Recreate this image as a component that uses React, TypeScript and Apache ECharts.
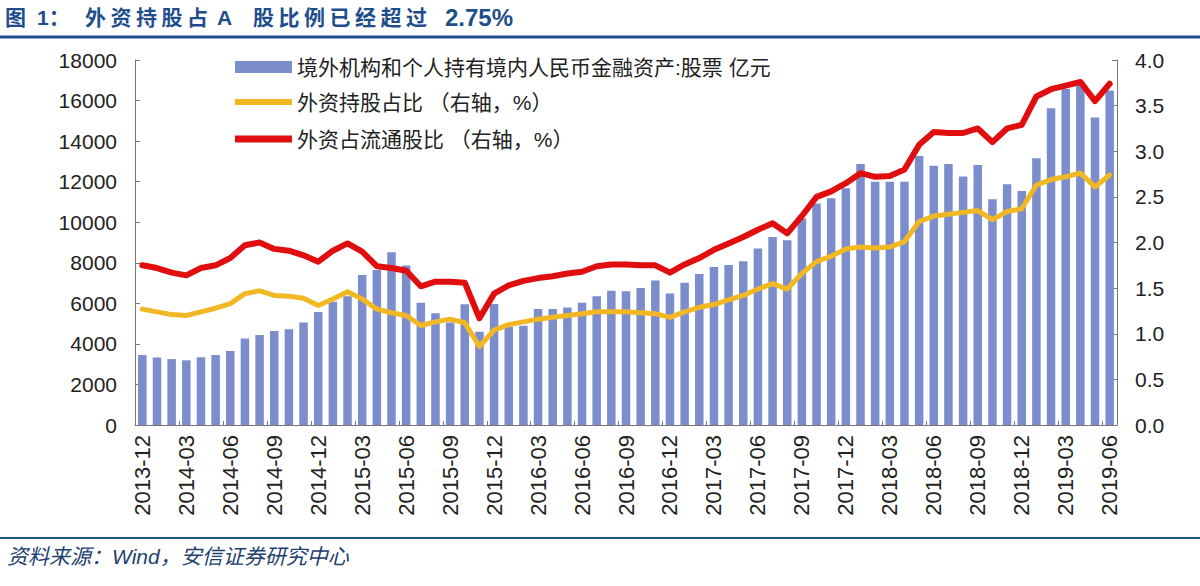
import React, { useEffect, useRef } from "react";
import * as echarts from "echarts";

const categories: string[] = [
  "2013-12",
  "2014-01", "2014-02", "2014-03", "2014-04", "2014-05", "2014-06", "2014-07", "2014-08", "2014-09", "2014-10", "2014-11", "2014-12",
  "2015-01", "2015-02", "2015-03", "2015-04", "2015-05", "2015-06", "2015-07", "2015-08", "2015-09", "2015-10", "2015-11", "2015-12",
  "2016-01", "2016-02", "2016-03", "2016-04", "2016-05", "2016-06", "2016-07", "2016-08", "2016-09", "2016-10", "2016-11", "2016-12",
  "2017-01", "2017-02", "2017-03", "2017-04", "2017-05", "2017-06", "2017-07", "2017-08", "2017-09", "2017-10", "2017-11", "2017-12",
  "2018-01", "2018-02", "2018-03", "2018-04", "2018-05", "2018-06", "2018-07", "2018-08", "2018-09", "2018-10", "2018-11", "2018-12",
  "2019-01", "2019-02", "2019-03", "2019-04", "2019-05", "2019-06",
];

// 境外机构和个人持有境内人民币金融资产:股票 (亿元)
const holdings: number[] = [
  3450,
  3330, 3250, 3190, 3340, 3450, 3650, 4270, 4440, 4640, 4720, 5050, 5570,
  6080, 6350, 7400, 7650, 8520, 7870, 6030, 5510, 5050, 5950, 4600, 5970,
  4850, 4900, 5720, 5720, 5800, 6030, 6350, 6620, 6590, 6760, 7120, 6490,
  7020, 7450, 7790, 7890, 8080, 8710, 9270, 9110, 10180, 10920, 11180, 11670,
  12870, 12000, 12000, 12000, 13270, 12790, 12870, 12250, 12820, 11130, 11870, 11540,
  13150, 15620, 16570, 16770, 15160, 16490,
];

// 外资持股占比 (右轴, %)
const shareTotal: number[] = [
  1.27,
  1.24, 1.21, 1.2, 1.24, 1.28, 1.33, 1.44, 1.47, 1.42, 1.41, 1.39, 1.31,
  1.38, 1.46, 1.38, 1.27, 1.23, 1.2, 1.09, 1.13, 1.16, 1.12, 0.86, 1.04,
  1.1, 1.13, 1.16, 1.18, 1.2, 1.22, 1.24, 1.24, 1.24, 1.23, 1.22, 1.18,
  1.24, 1.29, 1.32, 1.37, 1.42, 1.49, 1.55, 1.49, 1.66, 1.79, 1.85, 1.93,
  1.95, 1.94, 1.95, 2.01, 2.23, 2.29, 2.31, 2.33, 2.35, 2.25, 2.34, 2.37,
  2.63, 2.69, 2.72, 2.76, 2.61, 2.74,
];

// 外资占流通股比 (右轴, %)
const shareFloat: number[] = [
  1.75,
  1.72, 1.67, 1.64, 1.72, 1.75, 1.83, 1.97, 2.0, 1.93, 1.91, 1.86, 1.79,
  1.91, 1.99, 1.9, 1.74, 1.72, 1.69, 1.52, 1.57, 1.57, 1.56, 1.17, 1.44,
  1.53, 1.58, 1.61, 1.63, 1.66, 1.68, 1.74, 1.76, 1.76, 1.75, 1.75, 1.67,
  1.76, 1.83, 1.92, 1.99, 2.06, 2.14, 2.21, 2.1, 2.29, 2.5, 2.56, 2.65,
  2.76, 2.72, 2.73, 2.8, 3.07, 3.21, 3.2, 3.2, 3.25, 3.1, 3.25, 3.29,
  3.6, 3.68, 3.72, 3.76, 3.55, 3.74,
];

const seriesNames: string[] = [
  "境外机构和个人持有境内人民币金融资产:股票 亿元",
  "外资持股占比 （右轴，%）",
  "外资占流通股比 （右轴，%）",
];

// title pieces: text, start x, per-character step (0 = draw as one run)
const titleParts: [string, number, number][] = [
  ["图", 5, 0],
  ["1：", 37, 0],
  ["外资持股占", 85, 25.5],
  ["A", 217, 0],
  ["股比例已经超过", 253, 25.5],
  ["2.75%", 445, 0],
];
const sourceText = "资料来源：Wind，安信证券研究中心";

const FONT = "'Liberation Sans', Arial, 'Noto Sans CJK SC', sans-serif";
const BAR_COLOR = "#7C8DCB";
const YELLOW = "#F2B824";
const RED = "#E00E0E";
const BLUE = "#1F4E8C";

export default function App() {
  const ref = useRef<HTMLDivElement>(null);

  useEffect(() => {
    if (!ref.current) return;
    const chart = echarts.init(ref.current, undefined, { renderer: "svg" });
    const legendText = { fontSize: 21, color: "#222", fontFamily: FONT, lineHeight: 24 };

    const titleEls: any[] = [];
    titleParts.forEach(([txt, x0, step]) => {
      const pieces = step > 0 ? Array.from(txt) : [txt];
      pieces.forEach((p, k) => {
        titleEls.push({
          type: "text",
          x: x0 + k * step,
          y: 17,
          style: {
            text: p,
            fontSize: p === "2.75%" ? 24 : 21,
            fontWeight: "bold",
            fill: BLUE,
            fontFamily: FONT,
            verticalAlign: "middle",
          },
        });
      });
    });

    chart.setOption({
      animation: false,
      backgroundColor: "#ffffff",
      textStyle: { fontFamily: FONT },
      graphic: [
        ...titleEls,
        {
          type: "line",
          shape: { x1: 0, y1: 37, x2: 1200, y2: 37 },
          style: { stroke: BLUE, lineWidth: 3 },
        },
        {
          type: "line",
          shape: { x1: 0, y1: 538, x2: 1200, y2: 538 },
          style: { stroke: "#1E5A80", lineWidth: 2 },
        },
        {
          type: "text",
          x: 7,
          y: 556,
          style: {
            text: sourceText,
            fontSize: 21,
            fontStyle: "italic",
            fill: "#22406E",
            fontFamily: FONT,
            verticalAlign: "middle",
          },
        },
      ],
      legend: [
        {
          data: [{ name: seriesNames[0], icon: "rect" }],
          left: 235,
          top: 55,
          padding: 0,
          itemWidth: 57,
          itemHeight: 12,
          textStyle: legendText,
          selectedMode: false,
        },
        {
          data: [{ name: seriesNames[1], icon: "rect" }],
          left: 235,
          top: 90,
          padding: 0,
          itemWidth: 57,
          itemHeight: 6,
          textStyle: legendText,
          selectedMode: false,
        },
        {
          data: [{ name: seriesNames[2], icon: "rect" }],
          left: 235,
          top: 127,
          padding: 0,
          itemWidth: 57,
          itemHeight: 7,
          textStyle: legendText,
          selectedMode: false,
        },
      ],
      grid: { left: 135, right: 83, top: 60, bottom: 161, containLabel: false },
      xAxis: {
        type: "category",
        data: categories,
        boundaryGap: true,
        axisLine: { lineStyle: { color: "#777", width: 1 } },
        axisTick: { show: true, inside: true, interval: 2, length: 4, lineStyle: { color: "#777" } },
        axisLabel: {
          interval: 2,
          rotate: 90,
          fontSize: 22,
          color: "#222",
          margin: 10,
          fontFamily: FONT,
        },
        splitLine: { show: false },
      },
      yAxis: [
        {
          type: "value",
          min: 0,
          max: 18000,
          interval: 2000,
          axisLine: { show: true, lineStyle: { color: "#777" } },
          axisTick: { show: true, inside: true, length: 5, lineStyle: { color: "#777" } },
          axisLabel: {
            fontSize: 21,
            color: "#222",
            margin: 18,
            fontFamily: FONT,
            formatter: (v: number) => String(v),
          },
          splitLine: { show: false },
        },
        {
          type: "value",
          min: 0,
          max: 4,
          interval: 0.5,
          position: "right",
          axisLine: { show: true, lineStyle: { color: "#777" } },
          axisTick: { show: true, inside: true, length: 5, lineStyle: { color: "#777" } },
          axisLabel: {
            fontSize: 21,
            color: "#222",
            margin: 18,
            fontFamily: FONT,
            formatter: (v: number) => v.toFixed(1),
          },
          splitLine: { show: false },
        },
      ],
      series: [
        {
          name: seriesNames[0],
          type: "bar",
          data: holdings,
          barWidth: 8.5,
          itemStyle: { color: BAR_COLOR },
          yAxisIndex: 0,
          z: 1,
        },
        {
          name: seriesNames[1],
          type: "line",
          data: shareTotal,
          yAxisIndex: 1,
          symbol: "none",
          showSymbol: false,
          itemStyle: { color: YELLOW },
          lineStyle: { color: YELLOW, width: 5, cap: "round", join: "round" },
          z: 3,
        },
        {
          name: seriesNames[2],
          type: "line",
          data: shareFloat,
          yAxisIndex: 1,
          symbol: "none",
          showSymbol: false,
          itemStyle: { color: RED },
          lineStyle: { color: RED, width: 6, cap: "round", join: "round" },
          z: 4,
        },
      ],
    });
    return () => chart.dispose();
  }, []);

  return (
    <div
      ref={ref}
      style={{ position: "fixed", left: 0, top: 0, width: 1200, height: 586, background: "#fff" }}
    />
  );
}
